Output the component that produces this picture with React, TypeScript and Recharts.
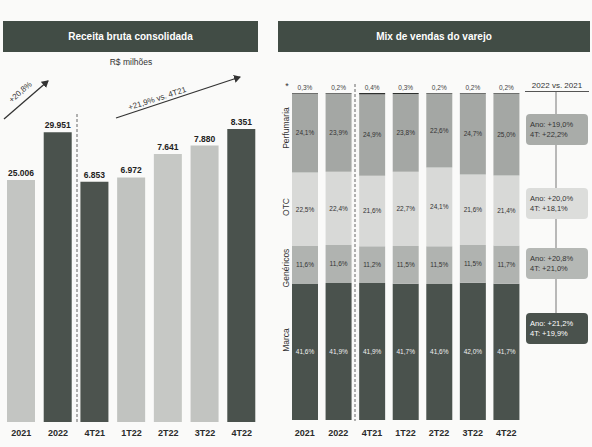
import React from 'react';
import { BarChart, Bar, XAxis, YAxis, Cell, LabelList } from 'recharts';

const categories = ['2021', '2022', '4T21', '1T22', '2T22', '3T22', '4T22'];
const annualRevenue = [25006, 29951, null, null, null, null, null];
const quarterlyRevenue = [null, null, 6853, 6972, 7641, 7880, 8351];
const revenueColors = ['#c3c5c2', '#4a524d', '#4c534e', '#c1c3c0', '#c6c8c5', '#c2c4c1', '#4a524d'];

const marca = [41.6, 41.9, 41.9, 41.7, 41.6, 42.0, 41.7];
const genericos = [11.6, 11.6, 11.2, 11.5, 11.5, 11.5, 11.7];
const otc = [22.5, 22.4, 21.6, 22.7, 24.1, 21.6, 21.4];
const perfumaria = [24.1, 23.9, 24.9, 23.8, 22.6, 24.7, 25.0];
const outros = [0.3, 0.2, 0.4, 0.3, 0.2, 0.2, 0.2];

const growthBoxes = [
  { ano: '+19,0%', tri: '+22,2%' },
  { ano: '+20,0%', tri: '+18,1%' },
  { ano: '+20,8%', tri: '+21,0%' },
  { ano: '+21,2%', tri: '+19,9%' },
];

const revenueData = categories.map((c, i) => ({
  cat: c,
  annual: annualRevenue[i],
  quarter: quarterlyRevenue[i],
}));

const mixData = categories.map((c, i) => ({
  cat: c,
  marca: marca[i],
  genericos: genericos[i],
  otc: otc[i],
  perfumaria: perfumaria[i],
  outros: outros[i],
}));

const FONT = '"Liberation Sans", Arial, sans-serif';
const fmtThousands = (v: any) => (v == null ? '' : Number(v).toLocaleString('de-DE'));
const fmtPct = (v: any) => (v == null ? '' : Number(v).toFixed(1).replace('.', ',') + '%');

const tickStyle = { fontSize: 9, fontWeight: 700, fill: '#2a2a2a', fontFamily: FONT };

export default function App() {
  return (
    <div style={{ position: 'absolute', left: 0, top: 0, width: 592, height: 447, background: '#fafaf9', overflow: 'hidden', fontFamily: FONT }}>
      <div style={{ position: 'absolute', left: 3, top: 21, width: 255, height: 31, background: '#414c45', color: '#fff', fontSize: 10, fontWeight: 700, display: 'flex', alignItems: 'center', justifyContent: 'center' }}>
        Receita bruta consolidada
      </div>
      <div style={{ position: 'absolute', left: 278, top: 21, width: 312, height: 31, background: '#414c45', color: '#fff', fontSize: 10, fontWeight: 700, display: 'flex', alignItems: 'center', justifyContent: 'center' }}>
        Mix de vendas do varejo
      </div>
      <div style={{ position: 'absolute', left: 0, top: 57, width: 262, textAlign: 'center', fontSize: 8.5, color: '#333' }}>R$ milhões</div>

      <div style={{ position: 'absolute', left: 0, top: 0 }}>
        <BarChart width={262} height={447} data={revenueData} margin={{ top: 93, left: 3, right: 2, bottom: 0 }}>
          <XAxis dataKey="cat" height={25} axisLine={false} tickLine={false} tick={tickStyle} tickMargin={2} interval={0} />
          <YAxis hide domain={[0, 34000]} />
          <Bar dataKey="annual" barSize={28} isAnimationActive={false}>
            {revenueData.map((d, i) => <Cell key={i} fill={revenueColors[i]} />)}
            <LabelList dataKey="annual" position="top" offset={4} formatter={fmtThousands} style={{ fontSize: 8.5, fontWeight: 700, fill: '#222', fontFamily: FONT }} />
          </Bar>
        </BarChart>
      </div>
      <div style={{ position: 'absolute', left: 0, top: 0 }}>
        <BarChart width={262} height={447} data={revenueData} margin={{ top: 93, left: 3, right: 2, bottom: 0 }}>
          <XAxis dataKey="cat" height={25} axisLine={false} tickLine={false} tick={false} />
          <YAxis hide domain={[0, 9380]} />
          <Bar dataKey="quarter" barSize={28} isAnimationActive={false}>
            {revenueData.map((d, i) => <Cell key={i} fill={revenueColors[i]} />)}
            <LabelList dataKey="quarter" position="top" offset={4} formatter={fmtThousands} style={{ fontSize: 8.5, fontWeight: 700, fill: '#222', fontFamily: FONT }} />
          </Bar>
        </BarChart>
      </div>

      <div style={{ position: 'absolute', left: 288, top: 0 }}>
        <BarChart width={235} height={447} data={mixData} margin={{ top: 93, left: 0, right: 0, bottom: 0 }}>
          <XAxis dataKey="cat" height={27} axisLine={false} tickLine={false} tick={tickStyle} tickMargin={4} interval={0} />
          <YAxis hide domain={[0, 100]} allowDataOverflow />
          <Bar dataKey="marca" stackId="m" barSize={26} fill="#4a524d" isAnimationActive={false}>
            <LabelList dataKey="marca" position="center" formatter={fmtPct} style={{ fontSize: 6.5, fill: '#f0f0f0', fontFamily: FONT }} />
          </Bar>
          <Bar dataKey="genericos" stackId="m" barSize={26} fill="#b0b3b0" isAnimationActive={false}>
            <LabelList dataKey="genericos" position="center" formatter={fmtPct} style={{ fontSize: 6.5, fill: '#333', fontFamily: FONT }} />
          </Bar>
          <Bar dataKey="otc" stackId="m" barSize={26} fill="#d8d9d7" isAnimationActive={false}>
            <LabelList dataKey="otc" position="center" formatter={fmtPct} style={{ fontSize: 6.5, fill: '#333', fontFamily: FONT }} />
          </Bar>
          <Bar dataKey="perfumaria" stackId="m" barSize={26} fill="#a4a7a4" isAnimationActive={false}>
            <LabelList dataKey="perfumaria" position="center" formatter={fmtPct} style={{ fontSize: 6.5, fill: '#333', fontFamily: FONT }} />
          </Bar>
          <Bar dataKey="outros" stackId="m" barSize={26} fill="#2e302e" isAnimationActive={false}>
            <LabelList dataKey="outros" position="top" offset={3} formatter={fmtPct} style={{ fontSize: 6.5, fill: '#444', fontFamily: FONT }} />
          </Bar>
        </BarChart>
      </div>

      <svg width={592} height={447} style={{ position: 'absolute', left: 0, top: 0, pointerEvents: 'none' }}>
        <defs>
          <marker id="ah" markerWidth="8" markerHeight="8" refX="6" refY="4" orient="auto" markerUnits="userSpaceOnUse">
            <path d="M0,0 L7,4 L0,8 Z" fill="#333" />
          </marker>
        </defs>
        <line x1={4} y1={119} x2={48} y2={81} stroke="#333" strokeWidth={1.3} markerEnd="url(#ah)" />
        <text x={22} y={94} fontSize={8} fill="#333" textAnchor="middle" transform="rotate(-41 22 94)" fontFamily={FONT}>+20,8%</text>
        <line x1={116} y1={118} x2={240} y2={77} stroke="#333" strokeWidth={1.3} markerEnd="url(#ah)" />
        <text x={158} y={101} fontSize={8} fill="#333" textAnchor="middle" transform="rotate(-18 158 101)" fontFamily={FONT}>+21,9% vs. 4T21</text>
        <line x1={77} y1={114} x2={77} y2={423} stroke="#666" strokeWidth={1} strokeDasharray="3 2" />
        <line x1={355} y1={84} x2={355} y2={421} stroke="#666" strokeWidth={1} strokeDasharray="3 2" />
        <text x={287} y={89} fontSize={9} fill="#333" textAnchor="middle" fontFamily={FONT}>*</text>
        <text x={287} y={128} fontSize={8.5} fill="#333" textAnchor="middle" transform="rotate(-90 287 128)" dominantBaseline="middle" fontFamily={FONT}>Perfumaria</text>
        <text x={287} y={207} fontSize={8.5} fill="#333" textAnchor="middle" transform="rotate(-90 287 207)" dominantBaseline="middle" fontFamily={FONT}>OTC</text>
        <text x={287} y={268} fontSize={8.5} fill="#333" textAnchor="middle" transform="rotate(-90 287 268)" dominantBaseline="middle" fontFamily={FONT}>Genéricos</text>
        <text x={287} y={340} fontSize={8.5} fill="#333" textAnchor="middle" transform="rotate(-90 287 340)" dominantBaseline="middle" fontFamily={FONT}>Marca</text>
        <line x1={556} y1={92} x2={556} y2={330} stroke="#777" strokeWidth={1} />
      </svg>

      <div style={{ position: 'absolute', left: 525, top: 80, width: 64, textAlign: 'center', fontSize: 8, color: '#333', borderBottom: '1px solid #555', lineHeight: '11px' }}>2022 vs. 2021</div>

      {growthBoxes.map((b, i) => {
        const tops = [114, 188, 248, 313];
        const bgs = ['#a9aca9', '#dcdddb', '#b5b8b5', '#4a524d'];
        const fg = i === 3 ? '#fff' : '#333';
        return (
          <div key={i} style={{ position: 'absolute', left: 526, top: tops[i], width: 62, height: 31, background: bgs[i], borderRadius: 4, color: fg, fontSize: 7.5, lineHeight: '10px', display: 'flex', flexDirection: 'column', justifyContent: 'center', paddingLeft: 4, boxSizing: 'border-box' }}>
            <div>Ano: {b.ano}</div>
            <div>4T: {b.tri}</div>
          </div>
        );
      })}
    </div>
  );
}
